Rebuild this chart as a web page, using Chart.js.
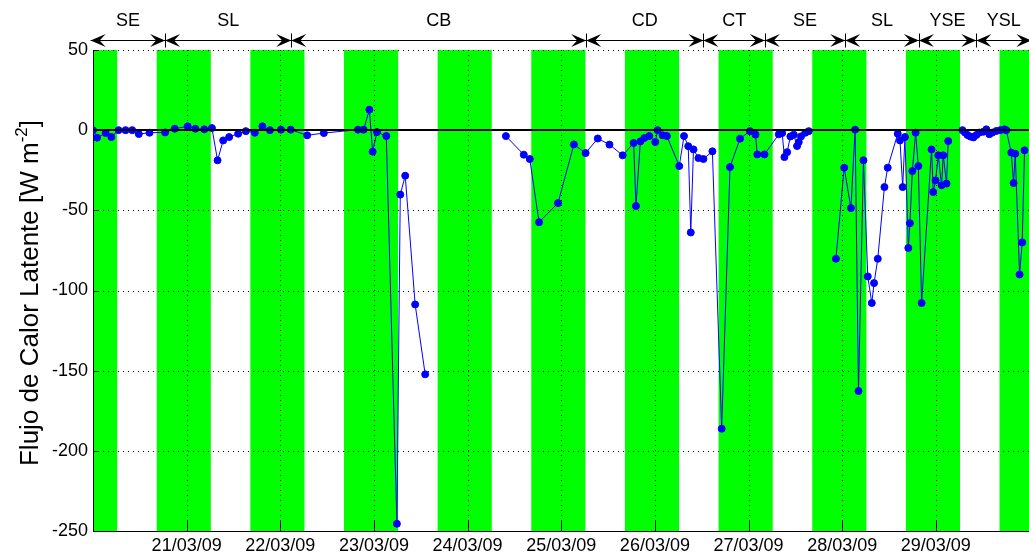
<!DOCTYPE html>
<html>
<head>
<meta charset="utf-8">
<script src="https://cdn.jsdelivr.net/npm/chart.js@4.4.0/dist/chart.umd.min.js"></script>
<style>
  html, body { margin: 0; padding: 0; background: #fff; overflow: hidden; }
  #wrap { width: 1029px; height: 556px; overflow: hidden; }
</style>
</head>
<body>
<div id="wrap"><canvas id="myChart" width="1034" height="556"></canvas></div>
<script>
// time in days since 20/03/09 00:00, null = no data
const days = [
  0.000, 0.043, 0.135, 0.196, 0.273, 0.348, 0.419, 0.489, 0.603, 0.770,
  0.872, 1.011, 1.093, 1.188, 1.270, 1.330, 1.390, 1.454, 1.550, 1.632,
  1.728, 1.809, 1.890, 2.007, 2.111, 2.287, 2.465, 2.830, 2.890, 2.951,
  2.986, 3.032, 3.132, 3.245, 3.281, 3.334, 3.440, 3.547,
  4.000,
  4.409, 4.600, 4.664, 4.763, 4.965, 5.135, 5.260, 5.390, 5.515, 5.656,
  5.773, 5.798, 5.845, 5.887, 5.940, 6.004, 6.029, 6.082, 6.128, 6.260,
  6.311, 6.356, 6.383, 6.412, 6.465, 6.518, 6.614, 6.713, 6.802, 6.909,
  7.015, 7.074, 7.093, 7.170, 7.323, 7.359, 7.383, 7.412, 7.447, 7.483,
  7.518, 7.536, 7.560, 7.606, 7.643,
  7.800,
  7.933, 8.021, 8.093, 8.138, 8.174, 8.227, 8.273, 8.316, 8.340, 8.380,
  8.451, 8.486, 8.593, 8.617, 8.646, 8.670, 8.706, 8.723, 8.749, 8.784,
  8.813, 8.848, 8.954, 8.972, 8.997, 9.026, 9.061, 9.079, 9.114, 9.132,
  9.200,
  9.284, 9.311, 9.337, 9.369, 9.401, 9.433, 9.465, 9.507, 9.539, 9.571,
  9.603, 9.646, 9.688, 9.731, 9.752, 9.805, 9.830, 9.848, 9.894, 9.922,
  9.947
];
const flux = [
  0, -4.7, -1.8, -4.3, 0, 0, 0, -2.4, -1.6, -1.4,
  0.9, 2.4, 0.9, 0.5, 1.3, -18.8, -6.4, -4.3, -2.2, -0.6,
  -1.6, 2.4, 0, 0.3, 0.3, -3.2, -1.8, 0.3, 0.3, 12.8,
  -13.4, -1.2, -3.7, -245.5, -40.2, -28.4, -108.7, -152.3,
  null,
  -3.7, -15.3, -18, -57.4, -45.5, -8.9, -14.3, -5.2, -9, -15.7,
  -8, -47.3, -7, -4.9, -3.7, -7.4, 0, -3.2, -3.7, -22.4,
  -3.7, -10, -63.8, -12, -17.4, -18, -13.2, -186.2, -23, -5.3,
  -0.6, -2.8, -15.1, -15.1, -2.6, -1.8, -16.8, -13.7, -3.9, -2.8,
  -9.9, -7.4, -3.9, -1.6, -0.6,
  null,
  -80.2, -23.4, -48.6, 0.3, -162.7, -18.8, -91.2, -107.8, -95.4, -80.2,
  -35.5, -23.4, -2.2, -6.4, -35.5, -4.3, -73.5, -58, -25.5, -1.6,
  -22.4, -107.8, -12, -38.6, -31.3, -15.7, -34.4, -15.7, -33.3, -6.8,
  null,
  0, -1.5, -3, -4, -4.5, -3, -1.5, -1, 0.5, -2.5,
  -1.5, -0.5, 0, 0.5, 0, -14, -33, -14.7, -90, -70,
  -12.6
];

const tickDays = [1, 2, 3, 4, 5, 6, 7, 8, 9];
const tickLabels = ['21/03/09', '22/03/09', '23/03/09', '24/03/09', '25/03/09',
                    '26/03/09', '27/03/09', '28/03/09', '29/03/09'];

// night periods (green), in days
const nights = [
  [-0.32, 0.258], [0.68, 1.258], [1.68, 2.258], [2.68, 3.258], [3.68, 4.258],
  [4.68, 5.258], [5.68, 6.258], [6.68, 7.258], [7.68, 8.258], [8.68, 9.258],
  [9.68, 10.258]
];

// regimes along the top
const phaseNames = ['SE', 'SL', 'CB', 'CD', 'CT', 'SE', 'SL', 'YSE', 'YSL'];
const phaseEdges = [-0.025, 0.770, 2.117, 5.266, 6.518, 7.174, 8.032, 8.819, 9.432, 10.02];

const FONT = '"Liberation Sans", Arial, Helvetica, sans-serif';
Chart.defaults.font.family = FONT;
Chart.defaults.color = '#000';

function arrowHead(ctx, tx, ty, dir) {
  const L = 15, H = 6.5;
  ctx.beginPath();
  ctx.moveTo(tx, ty);
  ctx.lineTo(tx - dir * L, ty - H);
  ctx.lineTo(tx - dir * L * 0.6, ty);
  ctx.lineTo(tx - dir * L, ty + H);
  ctx.closePath();
  ctx.fill();
}

const extras = {
  id: 'extras',
  beforeDraw(chart) {
    const {ctx, chartArea: a, scales: {x}} = chart;
    ctx.save();
    ctx.fillStyle = '#00ff00';
    nights.forEach(([s, e]) => {
      const x1 = Math.max(x.getPixelForValue(s), a.left);
      const x2 = Math.min(x.getPixelForValue(e), a.right);
      if (x2 > x1) ctx.fillRect(x1, a.top, x2 - x1, a.bottom - a.top);
    });
    ctx.restore();
  },
  beforeDatasetsDraw(chart) {
    // dotted grid
    const {ctx, chartArea: a, scales: {x, y}} = chart;
    ctx.save();
    ctx.strokeStyle = '#000';
    ctx.lineWidth = 1;
    ctx.setLineDash([1, 4]);
    ctx.beginPath();
    x.ticks.forEach(t => {
      const px = Math.round(x.getPixelForValue(t.value)) + 0.5;
      ctx.moveTo(px, a.top);
      ctx.lineTo(px, a.bottom);
    });
    y.ticks.forEach(t => {
      if (t.value === -250) return;
      const py = Math.round(y.getPixelForValue(t.value)) + 0.5;
      ctx.moveTo(a.left, py);
      ctx.lineTo(a.right, py);
    });
    ctx.stroke();
    ctx.restore();
  },
  afterDatasetsDraw(chart) {
    const {ctx, chartArea: a, scales: {y}} = chart;
    const py = Math.round(y.getPixelForValue(0));
    ctx.save();
    ctx.strokeStyle = '#000';
    ctx.lineWidth = 2;
    ctx.beginPath();
    ctx.moveTo(a.left, py);
    ctx.lineTo(a.right, py);
    ctx.stroke();
    ctx.restore();
  },
  afterDraw(chart) {
    const {ctx, chartArea: a, scales: {x, y}} = chart;
    ctx.save();
    ctx.strokeStyle = '#000';
    ctx.fillStyle = '#000';
    ctx.lineWidth = 1;

    // ticks pointing inward
    ctx.beginPath();
    x.ticks.forEach(t => {
      const px = Math.round(x.getPixelForValue(t.value)) + 0.5;
      ctx.moveTo(px, a.bottom);
      ctx.lineTo(px, a.bottom - 10);
    });
    y.ticks.forEach(t => {
      const py = Math.round(y.getPixelForValue(t.value)) + 0.5;
      ctx.moveTo(a.left, py);
      ctx.lineTo(a.left + 5, py);
    });
    ctx.stroke();

    // regime arrows
    const ay = 40.5;
    ctx.font = '18px ' + FONT;
    ctx.textAlign = 'center';
    ctx.textBaseline = 'middle';
    for (let i = 0; i < phaseNames.length; i++) {
      const x1 = x.getPixelForValue(phaseEdges[i]);
      const x2 = x.getPixelForValue(phaseEdges[i + 1]);
      ctx.beginPath();
      ctx.moveTo(x1, ay);
      ctx.lineTo(x2, ay);
      ctx.stroke();
      arrowHead(ctx, x1, ay, -1);
      arrowHead(ctx, x2, ay, 1);
      ctx.fillText(phaseNames[i], (x1 + x2) / 2, 21);
    }
    ctx.beginPath();
    for (let i = 1; i < phaseEdges.length - 1; i++) {
      const px = Math.round(x.getPixelForValue(phaseEdges[i])) + 0.5;
      ctx.moveTo(px, ay - 7);
      ctx.lineTo(px, ay + 7);
    }
    ctx.stroke();

    // y axis title with superscript
    ctx.translate(38, 293);
    ctx.rotate(-Math.PI / 2);
    const f1 = '26px ' + FONT, f2 = '17px ' + FONT;
    const main = 'Flujo de Calor Latente [W m', sup = '-2', end = ']';
    ctx.font = f1;
    const w1 = ctx.measureText(main).width, w3 = ctx.measureText(end).width;
    ctx.font = f2;
    const w2 = ctx.measureText(sup).width;
    let sx = -(w1 + w2 + w3) / 2;
    ctx.textAlign = 'left';
    ctx.textBaseline = 'alphabetic';
    ctx.font = f1;
    ctx.fillText(main, sx, 0);
    sx += w1;
    ctx.font = f2;
    ctx.fillText(sup, sx, -11);
    sx += w2;
    ctx.font = f1;
    ctx.fillText(end, sx, 0);
    ctx.restore();
  }
};

const ctx = document.getElementById('myChart').getContext('2d');
const myChart = new Chart(ctx, {
  type: 'scatter',
  data: {
    datasets: [{
      data: days.map((d, i) => ({x: d, y: flux[i]})),
      showLine: true,
      spanGaps: false,
      borderColor: '#0000ff',
      borderWidth: 1,
      pointRadius: 3.5,
      pointHoverRadius: 3.5,
      pointBackgroundColor: '#0000ff',
      pointBorderColor: '#0000ff',
      pointBorderWidth: 1
    }]
  },
  options: {
    responsive: false,
    animation: false,
    events: [],
    layout: { padding: { top: 50, left: 0, right: 0, bottom: 0 } },
    plugins: { legend: { display: false }, tooltip: { enabled: false } },
    scales: {
      x: {
        type: 'linear',
        min: 0,
        max: 10,
        afterBuildTicks: s => { s.ticks = tickDays.map(v => ({value: v})); },
        afterFit: s => { s.height = 25; },
        ticks: {
          callback: (v, i) => tickLabels[i],
          font: { size: 18 },
          color: '#000',
          padding: 4,
          maxRotation: 0,
          autoSkip: false
        },
        grid: { display: false, drawTicks: false },
        border: { display: true, color: '#000', width: 1 }
      },
      y: {
        min: -250,
        max: 50,
        afterFit: s => { s.width = 93; },
        ticks: {
          stepSize: 50,
          font: { size: 18 },
          color: '#000',
          padding: 5
        },
        grid: { display: false, drawTicks: false },
        border: { display: true, color: '#000', width: 1 }
      }
    }
  },
  plugins: [extras]
});
</script>
</body>
</html>
